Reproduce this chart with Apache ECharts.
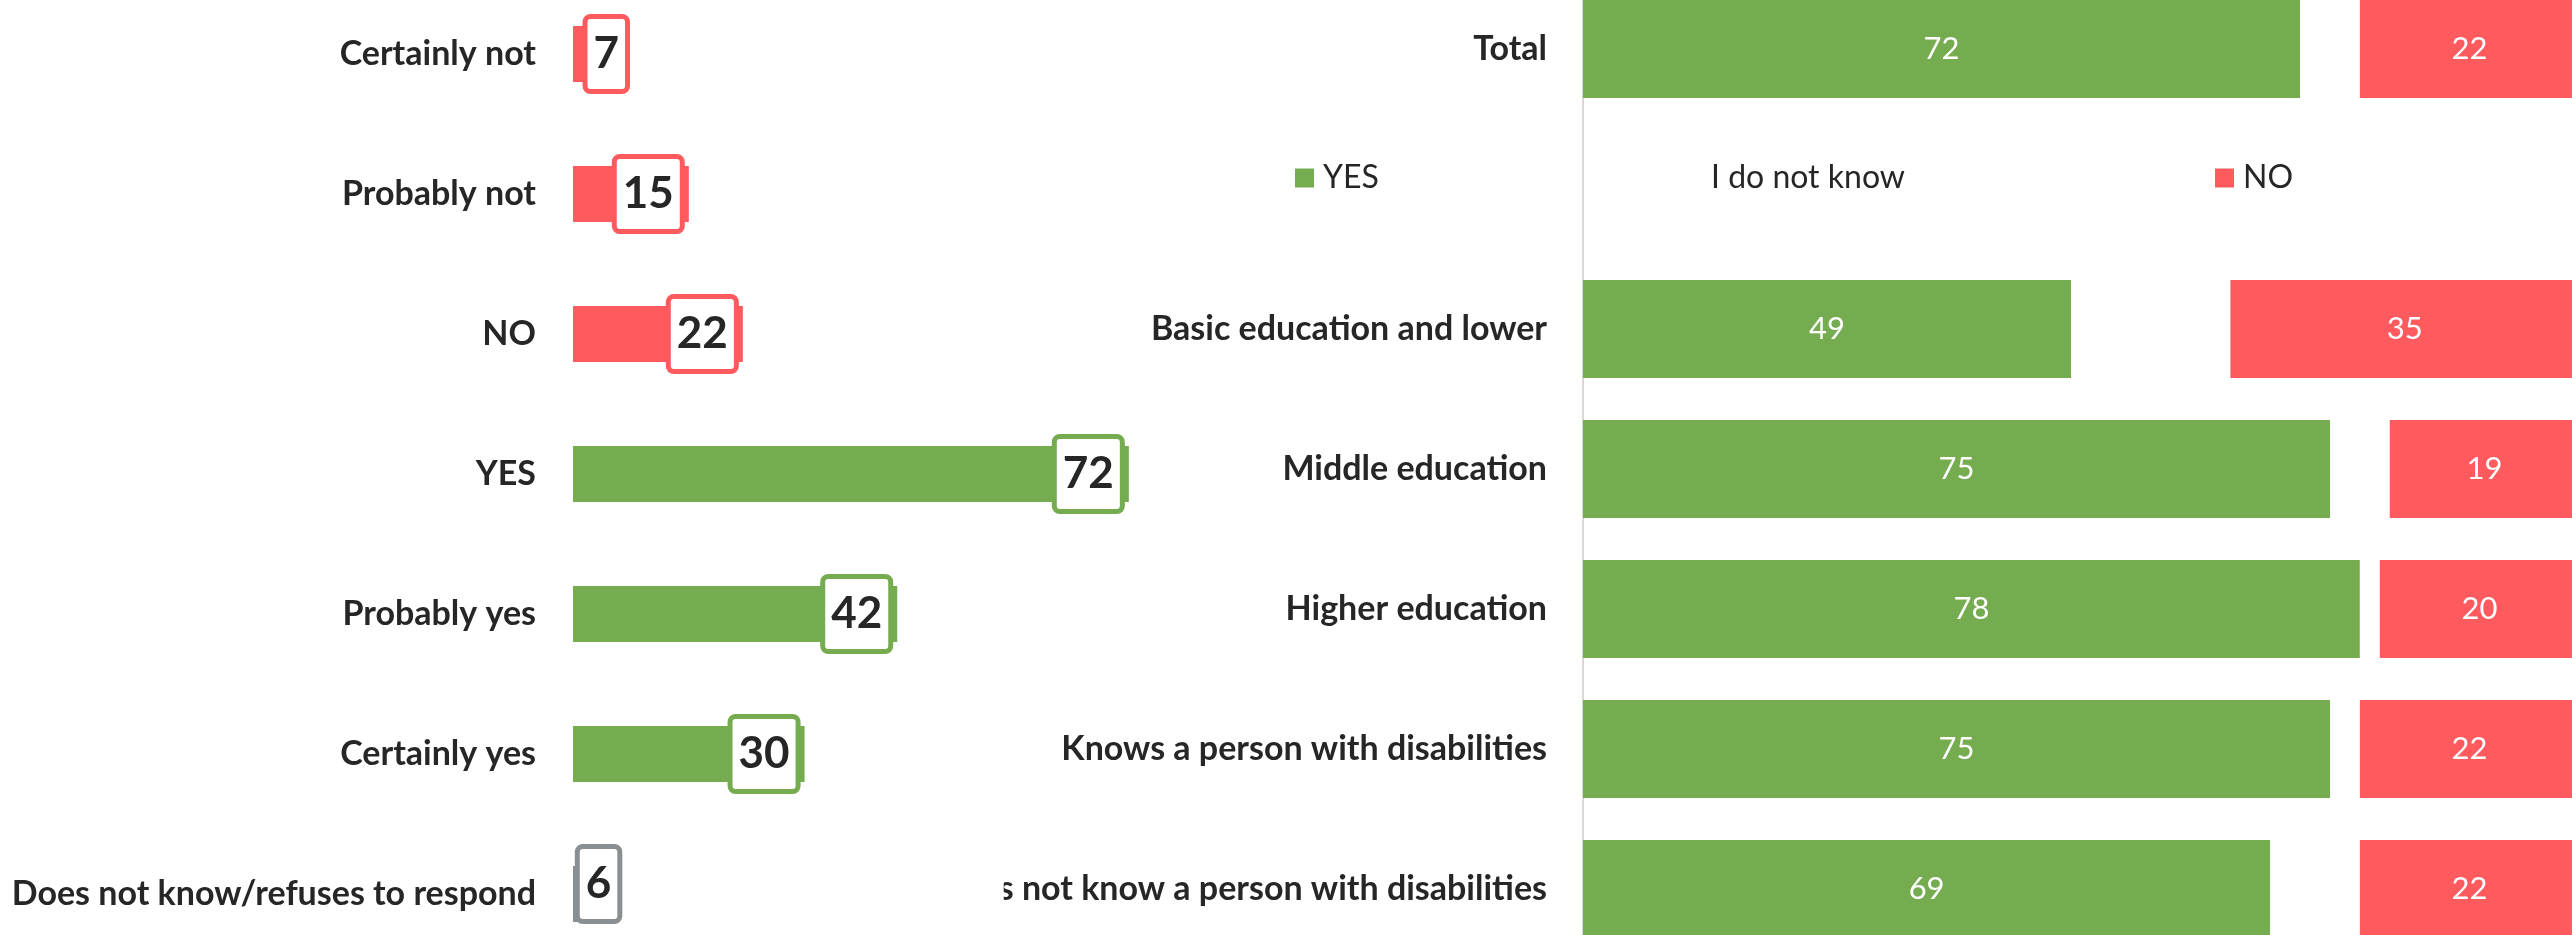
<!DOCTYPE html>
<html>
<head>
<meta charset="utf-8">
<script src="https://cdn.jsdelivr.net/npm/echarts@6/dist/echarts.min.js"></script>
<style>
  html, body { margin: 0; padding: 0; background: #ffffff; }
  #chart { width: 2572px; height: 935px; }
</style>
</head>
<body>
<div id="chart"></div>
<script>
// Answer breakdown (left panel)
const answerCategories = ['Certainly not', 'Probably not', 'NO', 'YES', 'Probably yes', 'Certainly yes', 'Does not know/refuses to respond'];
const answerValues = [7, 15, 22, 72, 42, 30, 6];
const answerGroups = ['no', 'no', 'no', 'yes', 'yes', 'yes', 'dk'];

// Breakdown by group (right panel); the empty row holds the legend
const groupCategories = ['Total', '', 'Basic education and lower', 'Middle education', 'Higher education', 'Knows a person with disabilities', 'Does not know a person with disabilities'];
const yesValues = [72, null, 49, 75, 78, 75, 69];
const dontKnowValues = [6, null, 16, 6, 2, 3, 9];
const noValues = [22, null, 35, 19, 20, 22, 22];
const seriesNames = ['YES', 'I do not know', 'NO'];

const GREEN = '#75AC50';
const RED = '#FF5A5E';
const GREY = '#8C8F91';
const TEXT = '#262626';
const FONT = 'Lato, "Open Sans", sans-serif';
const groupColor = { yes: GREEN, no: RED, dk: GREY };

const RIGHT_GRID_LEFT = 1583;
const RIGHT_LABEL_MARGIN = 36;
const RIGHT_LABEL_SIZE = 34;

const answerData = answerValues.map((v, i) => {
  const c = groupColor[answerGroups[i]];
  const item = {
    value: v,
    itemStyle: { color: c },
    // single-digit boxes sit flush with the bar end
    label: { borderColor: c, distance: v < 10 ? 2 : 9 }
  };
  if (answerGroups[i] === 'dk') item.label.offset = [0, -10];
  return item;
});

// The left panel's white area overlaps the start of the last group label.
function measure(text, font) {
  const ctx = document.createElement('canvas').getContext('2d');
  ctx.font = font;
  return ctx.measureText(text).width;
}
const lastLabel = groupCategories[groupCategories.length - 1];
const visibleTail = lastLabel.slice(lastLabel.indexOf('s not'));
const labelRight = RIGHT_GRID_LEFT - RIGHT_LABEL_MARGIN;
const coverRight = labelRight - measure(visibleTail, 'bold ' + RIGHT_LABEL_SIZE + 'px Lato') + 5;

const chart = echarts.init(document.getElementById('chart'), null, { renderer: 'canvas' });

const legendBase = {
  orient: 'horizontal',
  itemWidth: 19,
  itemHeight: 19,
  icon: 'rect',
  selectedMode: false,
  textStyle: { fontFamily: FONT, fontSize: 32, color: TEXT, padding: [0, 0, 0, 4] }
};

chart.setOption({
  animation: false,
  backgroundColor: '#ffffff',
  legend: [
    Object.assign({}, legendBase, { data: ['YES'], left: 1290, top: 157 }),
    Object.assign({}, legendBase, { data: ['I do not know'], left: 1678, top: 157 }),
    Object.assign({}, legendBase, { data: ['NO'], left: 2210, top: 157 })
  ],
  grid: [
    { left: 573, top: -16, width: 772, height: 980, outerBoundsMode: 'none', containLabel: false },
    { left: RIGHT_GRID_LEFT, top: -21, width: 996, height: 980, outerBoundsMode: 'none', containLabel: false }
  ],
  xAxis: [
    { gridIndex: 0, type: 'value', min: 0, max: 100, show: false },
    { gridIndex: 1, type: 'value', min: 0, max: 100, show: false }
  ],
  yAxis: [
    {
      gridIndex: 0, type: 'category', inverse: true, data: answerCategories,
      axisLine: { show: false }, axisTick: { show: false }, splitLine: { show: false },
      axisLabel: { interval: 0, margin: 37, fontFamily: FONT, fontSize: 34, fontWeight: 'bold', color: TEXT }
    },
    {
      gridIndex: 1, type: 'category', inverse: true, data: groupCategories,
      axisLine: { show: true, lineStyle: { color: '#d9d9d9', width: 2 } },
      axisTick: { show: false }, splitLine: { show: false },
      axisLabel: { interval: 0, margin: RIGHT_LABEL_MARGIN, fontFamily: FONT, fontSize: RIGHT_LABEL_SIZE, fontWeight: 'bold', color: TEXT }
    }
  ],
  graphic: {
    elements: [
      { type: 'rect', left: 560, top: 850, z: 50, shape: { width: coverRight - 560, height: 85 }, style: { fill: '#ffffff' } }
    ]
  },
  series: [
    {
      type: 'bar', xAxisIndex: 0, yAxisIndex: 0, z: 100,
      barWidth: 56,
      data: answerData,
      label: {
        show: true,
        position: 'insideRight',
        fontFamily: FONT,
        fontSize: 44,
        fontWeight: 'bold',
        color: TEXT,
        lineHeight: 50,
        backgroundColor: '#ffffff',
        borderWidth: 5,
        borderRadius: 3,
        padding: [10, 6]
      }
    },
    {
      name: seriesNames[0], type: 'bar', xAxisIndex: 1, yAxisIndex: 1, stack: 'group',
      barWidth: 98, itemStyle: { color: GREEN }, data: yesValues,
      label: { show: true, position: 'inside', color: '#ffffff', fontFamily: FONT, fontSize: 31 }
    },
    {
      name: seriesNames[1], type: 'bar', xAxisIndex: 1, yAxisIndex: 1, stack: 'group',
      barWidth: 98, itemStyle: { color: '#ffffff' }, data: dontKnowValues,
      label: { show: false }
    },
    {
      name: seriesNames[2], type: 'bar', xAxisIndex: 1, yAxisIndex: 1, stack: 'group',
      barWidth: 98, itemStyle: { color: RED }, data: noValues,
      label: { show: true, position: 'inside', color: '#ffffff', fontFamily: FONT, fontSize: 31 }
    }
  ]
});
</script>
</body>
</html>
